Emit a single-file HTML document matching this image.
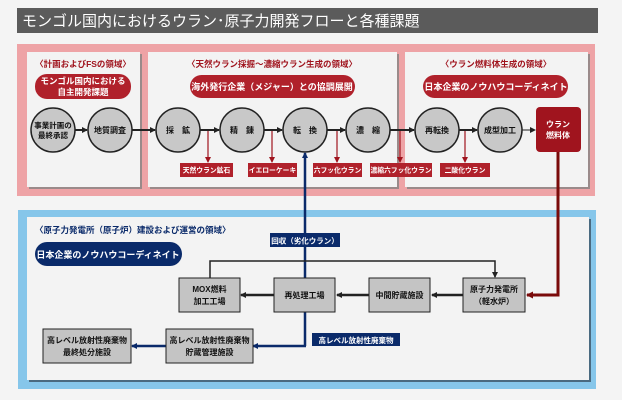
<!DOCTYPE html>
<html><head><meta charset="utf-8"><style>
html,body{margin:0;padding:0;background:#f4f4f4;}
svg{display:block;font-family:"Liberation Sans","Noto Sans CJK JP",sans-serif;font-weight:bold;}
</style></head><body>
<svg width="622" height="400" viewBox="0 0 622 400" xmlns="http://www.w3.org/2000/svg">
<defs>
<marker id="ak" markerWidth="6" markerHeight="6" refX="5" refY="3" orient="auto" markerUnits="userSpaceOnUse"><path d="M0,0 L6,3 L0,6z" fill="#222"/></marker>
<marker id="ar" markerWidth="6" markerHeight="6" refX="5" refY="3" orient="auto" markerUnits="userSpaceOnUse"><path d="M0,0 L6,3 L0,6z" fill="#a0141e"/></marker>
<marker id="an" markerWidth="6" markerHeight="6" refX="5" refY="3" orient="auto" markerUnits="userSpaceOnUse"><path d="M0,0 L6,3 L0,6z" fill="#0a2a6a"/></marker>
<marker id="ad" markerWidth="7" markerHeight="7" refX="6" refY="3.5" orient="auto" markerUnits="userSpaceOnUse"><path d="M0,0 L7,3.5 L0,7z" fill="#7a0a0a"/></marker>
</defs>
<rect width="622" height="400" fill="#f4f4f4"/>
<rect x="17" y="8" width="581" height="25" fill="#5b5b5b"/>
<text x="22" y="26" font-size="15" fill="#fff" font-weight="normal">モンゴル国内におけるウラン･原子力開発フローと各種課題</text>

<rect x="17" y="44" width="578" height="152" fill="#eea3a6"/>
<rect x="29" y="54" width="113" height="135" fill="#9a8a8a"/>
<rect x="27" y="52" width="113" height="135" fill="#f3f3f3"/>
<rect x="150" y="54" width="249" height="135" fill="#9a8a8a"/>
<rect x="148" y="52" width="249" height="135" fill="#f3f3f3"/>
<rect x="407" y="54" width="183" height="135" fill="#9a8a8a"/>
<rect x="405" y="52" width="183" height="135" fill="#f3f3f3"/>

<g font-size="8.5" fill="#a0141e" text-anchor="middle">
<text x="83" y="67">〈計画およびFSの領域〉</text>
<text x="272" y="67">〈天然ウラン採掘～濃縮ウラン生成の領域〉</text>
<text x="496" y="67">〈ウラン燃料体生成の領域〉</text>
</g>
<rect x="35" y="74" width="96" height="25" rx="12" fill="#b0212b"/>
<text x="83" y="84" font-size="8.5" fill="#fff" text-anchor="middle">モンゴル国内における</text>
<text x="83" y="95" font-size="8.5" fill="#fff" text-anchor="middle">自主開発課題</text>
<rect x="190" y="75" width="165" height="23" rx="11.5" fill="#b0212b"/>
<text x="272" y="90" font-size="9" fill="#fff" text-anchor="middle">海外発行企業（メジャー）との協調展開</text>
<rect x="423" y="75" width="145" height="23" rx="11.5" fill="#b0212b"/>
<text x="496" y="90" font-size="9" fill="#fff" text-anchor="middle">日本企業のノウハウコーディネイト</text>

<g stroke="#a0141e" stroke-width="1.2" fill="none">
<line x1="208" y1="131" x2="208" y2="162" marker-end="url(#ar)"/>
<line x1="272" y1="131" x2="272" y2="162" marker-end="url(#ar)"/>
<line x1="337" y1="131" x2="337" y2="162" marker-end="url(#ar)"/>
<line x1="400" y1="131" x2="400" y2="162" marker-end="url(#ar)"/>
<line x1="465" y1="131" x2="465" y2="162" marker-end="url(#ar)"/>
</g>
<g stroke="#222" stroke-width="2" fill="none">
<line x1="75" y1="130" x2="87" y2="130" marker-end="url(#ak)"/>
<line x1="132" y1="130" x2="155" y2="130" marker-end="url(#ak)"/>
<line x1="200" y1="130" x2="219" y2="130" marker-end="url(#ak)"/>
<line x1="264" y1="130" x2="282" y2="130" marker-end="url(#ak)"/>
<line x1="327" y1="130" x2="345" y2="130" marker-end="url(#ak)"/>
<line x1="390" y1="130" x2="414" y2="130" marker-end="url(#ak)"/>
<line x1="459" y1="130" x2="477" y2="130" marker-end="url(#ak)"/>
<line x1="522" y1="130" x2="535" y2="130" stroke-width="1" marker-end="url(#ak)"/>
</g>
<g fill="#c8c8c8" stroke="#222" stroke-width="1.5">
<circle cx="53" cy="130" r="22"/><circle cx="110" cy="130" r="22"/>
<circle cx="178" cy="130" r="22"/><circle cx="242" cy="130" r="22"/>
<circle cx="305" cy="130" r="22"/><circle cx="368" cy="130" r="22"/>
<circle cx="437" cy="130" r="22"/><circle cx="500" cy="130" r="22"/>
</g>
<g font-size="8" fill="#111" text-anchor="middle">
<text x="53" y="128" font-size="7.5">事業計画の</text><text x="53" y="138" font-size="7.5">最終承認</text>
<text x="110" y="133">地質調査</text>
<text x="178" y="133">採　鉱</text>
<text x="242" y="133">精　錬</text>
<text x="305" y="133">転　換</text>
<text x="368" y="133">濃　縮</text>
<text x="437" y="133">再転換</text>
<text x="500" y="133">成型加工</text>
</g>
<rect x="536" y="107" width="45" height="45" rx="4" fill="#a0141e"/>
<text x="558" y="127" font-size="8" fill="#fff" text-anchor="middle">ウラン</text>
<text x="558" y="138" font-size="8" fill="#fff" text-anchor="middle">燃料体</text>
<g fill="#b0212b">
<rect x="180" y="163" width="53" height="14"/><rect x="248" y="163" width="49" height="14"/>
<rect x="313" y="163" width="49" height="14"/><rect x="370" y="163" width="62" height="14"/>
<rect x="440" y="163" width="50" height="14"/>
</g>
<g font-size="6.8" fill="#fff" text-anchor="middle">
<text x="206.5" y="172.5">天然ウラン鉱石</text><text x="272.5" y="172.5">イエローケーキ</text>
<text x="337.5" y="172.5">六フッ化ウラン</text><text x="401" y="172.5">濃縮六フッ化ウラン</text>
<text x="465" y="172.5">二酸化ウラン</text>
</g>

<rect x="18" y="210" width="578" height="179" fill="#86c6ea"/>
<rect x="29" y="219" width="562" height="163" fill="#4a6a80"/>
<rect x="27" y="217" width="562" height="163" fill="#f3f3f3"/>
<text x="35" y="233" font-size="8.5" fill="#0a2a6a">〈原子力発電所（原子炉）建設および運営の領域〉</text>
<rect x="35" y="242" width="147" height="24" rx="12" fill="#0a2a6a"/>
<text x="108" y="258" font-size="9" fill="#fff" text-anchor="middle">日本企業のノウハウコーディネイト</text>

<line x1="305" y1="346" x2="305" y2="153" stroke="#0a2a6a" stroke-width="2.5" marker-end="url(#an)"/>
<line x1="306" y1="346" x2="253" y2="346" stroke="#0a2a6a" stroke-width="2.5" marker-end="url(#an)"/>
<line x1="166" y1="346" x2="132" y2="346" stroke="#0a2a6a" stroke-width="2.5" marker-end="url(#an)"/>
<polyline points="558,152 558,295 527,295" fill="none" stroke="#7a0a0a" stroke-width="3" marker-end="url(#ad)"/>
<polyline points="210,278 210,261 495,261 495,277" fill="none" stroke="#222" stroke-width="1.5" marker-end="url(#ak)"/>
<g stroke="#222" stroke-width="2.5">
<line x1="274" y1="295" x2="241" y2="295" marker-end="url(#ak)"/>
<line x1="369" y1="295" x2="337" y2="295" marker-end="url(#ak)"/>
<line x1="463" y1="295" x2="432" y2="295" marker-end="url(#ak)"/>
</g>
<g fill="#c4c4c4" stroke="#222" stroke-width="1">
<rect x="179" y="278" width="61" height="34"/><rect x="274" y="278" width="61" height="34"/>
<rect x="369" y="278" width="61" height="34"/><rect x="463" y="278" width="62" height="34"/>
<rect x="43" y="329" width="88" height="34"/><rect x="166" y="329" width="87" height="34"/>
</g>
<g font-size="8" fill="#111" text-anchor="middle">
<text x="209.5" y="292">MOX燃料</text><text x="209.5" y="304">加工工場</text>
<text x="304.5" y="298">再処理工場</text>
<text x="399.5" y="298">中間貯蔵施設</text>
<text x="494" y="292">原子力発電所</text><text x="494" y="304">（軽水炉）</text>
<text x="87" y="343">高レベル放射性廃棄物</text><text x="87" y="355">最終処分施設</text>
<text x="209.5" y="343">高レベル放射性廃棄物</text><text x="209.5" y="355">貯蔵管理施設</text>
</g>
<rect x="270" y="233" width="70" height="14" fill="#0a2a6a"/>
<text x="305" y="243.5" font-size="7.5" fill="#fff" text-anchor="middle">回収（劣化ウラン）</text>
<rect x="312" y="333" width="88" height="13" fill="#0a2a6a"/>
<text x="356" y="343" font-size="7.5" fill="#fff" text-anchor="middle">高レベル放射性廃棄物</text>
</svg>
</body></html>
